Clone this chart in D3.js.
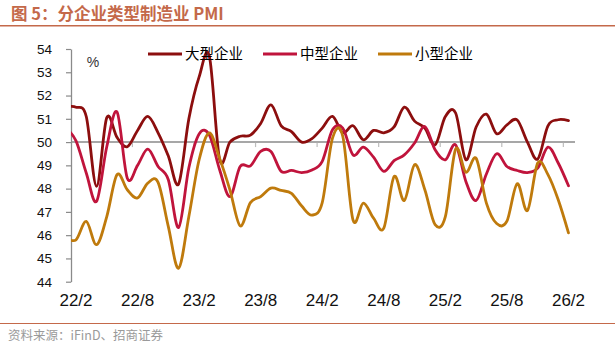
<!DOCTYPE html>
<html><head><meta charset="utf-8">
<script src="https://cdn.jsdelivr.net/npm/d3@7"></script>
<style>
html,body{margin:0;padding:0;background:#fff;}
svg{display:block;}
</style></head>
<body>
<svg id="chart" width="615" height="355"></svg>
<script>
// ---- data (monthly, 2022-01 .. 2026-02; first month lies left of the plot edge) ----
const months = [];
for (let y = 2022, m = 1; !(y === 2026 && m === 3); ) {
  months.push(y + "-" + String(m).padStart(2, "0"));
  m++; if (m > 12) { m = 1; y++; }
}
const seriesNames = ["大型企业", "中型企业", "小型企业"];
const large = [51.5,51.5,51.1,48.1,51.05,50.2,49.8,50.5,51.1,50.4,49.4,48.2,51.0,52.8,53.68,49.25,50.0,50.25,50.3,50.8,51.6,50.7,50.45,50.0,50.15,
  50.6,51.1,50.4,50.7,50.1,50.5,50.4,50.65,51.5,50.9,50.6,49.88,51.1,51.25,49.24,50.65,51.2,50.36,50.74,50.95,50.0,49.27,50.7,50.96,50.92];
const medium = [50.6,50.05,48.67,47.45,49.8,51.29,48.45,49.0,49.7,48.95,48.38,46.33,48.9,50.35,50.3,48.81,47.66,48.95,48.98,49.6,49.6,48.74,48.78,48.69,48.8,
  49.17,50.53,50.6,49.45,49.78,49.35,48.74,49.2,49.45,49.96,50.67,49.67,49.24,49.88,48.31,47.49,48.63,49.5,48.95,48.78,48.69,48.88,49.78,49.1,48.12];
const small = [45.9,45.8,46.59,45.59,46.8,48.6,47.95,47.6,48.24,48.27,46.37,44.58,46.8,49.24,50.39,49.3,47.95,46.4,47.4,47.66,48.02,47.92,47.8,47.25,46.86,
  47.4,50.17,50.25,46.65,47.38,46.73,46.3,48.52,47.49,49.03,47.95,46.45,46.8,49.7,48.7,49.3,47.38,46.5,46.6,48.21,47.06,49.1,48.6,47.52,46.1];
const yTicks = [44,45,46,47,48,49,50,51,52,53,54];
const xLabels = ["22/2","22/8","23/2","23/8","24/2","24/8","25/2","25/8","26/2"];
const xLabelMonths = ["2022-02","2022-08","2023-02","2023-08","2024-02","2024-08","2025-02","2025-08","2026-02"];
const tickIdx = [6.5,12.5,18.5,24.5,30.5,36.5,42.5,48.5];
const colors = ["#8C0E0E", "#C0143C", "#BF7A0C"];
const title = "图 5：分企业类型制造业 PMI";
const source = "资料来源：iFinD、招商证券";

// ---- layout ----
const svg = d3.select("#chart");
const accent = "#C4694A";
const plotL = 71, plotR = 575;
const x = d3.scaleLinear().domain([0, months.length - 1]).range([65.74, 568.48]);
const y = d3.scaleLinear().domain([44, 54]).range([281.7, 49]);

// title + rules
svg.append("text").attr("x", 11).attr("y", 19.5).text(title)
  .attr("font-family", "'Noto Sans CJK SC', 'Noto Sans', sans-serif")
  .attr("font-weight", "bold").attr("font-size", 16.5).attr("fill", accent);
svg.append("line").attr("x1", 0).attr("x2", 615).attr("y1", 25.8).attr("y2", 25.8)
  .attr("stroke", accent).attr("stroke-width", 1.5);
svg.append("line").attr("x1", 0).attr("x2", 615).attr("y1", 323.5).attr("y2", 323.5)
  .attr("stroke", accent).attr("stroke-width", 1.2);
svg.append("text").attr("x", 8).attr("y", 339.5).text(source)
  .attr("font-family", "'Noto Sans CJK SC', sans-serif")
  .attr("font-size", 12.5).attr("fill", "#9a9a9a");

// y axis
const yAxis = svg.append("g").attr("transform", `translate(${plotL},0)`)
  .call(d3.axisLeft(y).tickValues(yTicks).tickSize(5).tickSizeOuter(0).tickFormat(d3.format("d")));
yAxis.select(".domain").attr("stroke", "#8a8a8a").attr("stroke-width", 1.3);
yAxis.selectAll(".tick line").attr("stroke", "#8a8a8a").attr("stroke-width", 1.2);
yAxis.selectAll(".tick text").attr("x", -19).attr("fill", "#111")
  .attr("font-family", "'Liberation Sans', Arial, sans-serif").attr("font-size", 13.5);

// horizontal axis at 50
const y50 = y(50);
svg.append("line").attr("x1", plotL).attr("x2", plotR).attr("y1", y50).attr("y2", y50)
  .attr("stroke", "#8a8a8a").attr("stroke-width", 1.5);
svg.append("g").selectAll("line").data(tickIdx).join("line")
  .attr("x1", d => x(d)).attr("x2", d => x(d))
  .attr("y1", y50 + 0.75).attr("y2", y50 + 5)
  .attr("stroke", "#bdbdbd").attr("stroke-width", 1.2);

// x labels
svg.append("g").selectAll("text").data(xLabels).join("text")
  .attr("x", (d, i) => x(months.indexOf(xLabelMonths[i]))).attr("y", 306).attr("text-anchor", "middle")
  .attr("font-family", "'Liberation Sans Narrow', 'Liberation Sans', Arial, sans-serif")
  .attr("font-size", 17).attr("fill", "#111").text(d => d);

// % label
svg.append("text").attr("x", 93).attr("y", 67).attr("text-anchor", "middle")
  .attr("font-family", "'Liberation Sans', Arial, sans-serif").attr("font-size", 14)
  .attr("fill", "#333").text("%");

// clip
svg.append("clipPath").attr("id", "clip").append("rect")
  .attr("x", plotL).attr("y", 0).attr("width", plotR - plotL).attr("height", 355);

const line = d3.line().x((d, i) => x(i)).y(d => y(d)).curve(d3.curveCardinal.tension(0));
const all = [large, medium, small];
svg.append("g").attr("clip-path", "url(#clip)").selectAll("path").data(all).join("path")
  .attr("d", d => line(d)).attr("fill", "none")
  .attr("stroke", (d, i) => colors[i]).attr("stroke-width", 2.8)
  .attr("stroke-linejoin", "round").attr("stroke-linecap", "round");

// legend
const legX = [148, 263, 378];
const lg = svg.append("g").selectAll("g").data(seriesNames).join("g")
  .attr("transform", (d, i) => `translate(${legX[i]},54)`);
lg.append("line").attr("x1", 0).attr("x2", 34).attr("y1", 0).attr("y2", 0)
  .attr("stroke", (d, i) => colors[i]).attr("stroke-width", 3);
lg.append("text").attr("x", 37).attr("y", 0).attr("dy", "0.36em")
  .attr("font-family", "'Noto Sans CJK SC', sans-serif").attr("font-size", 14.5)
  .attr("fill", "#000").text(d => d);
</script>
</body></html>
